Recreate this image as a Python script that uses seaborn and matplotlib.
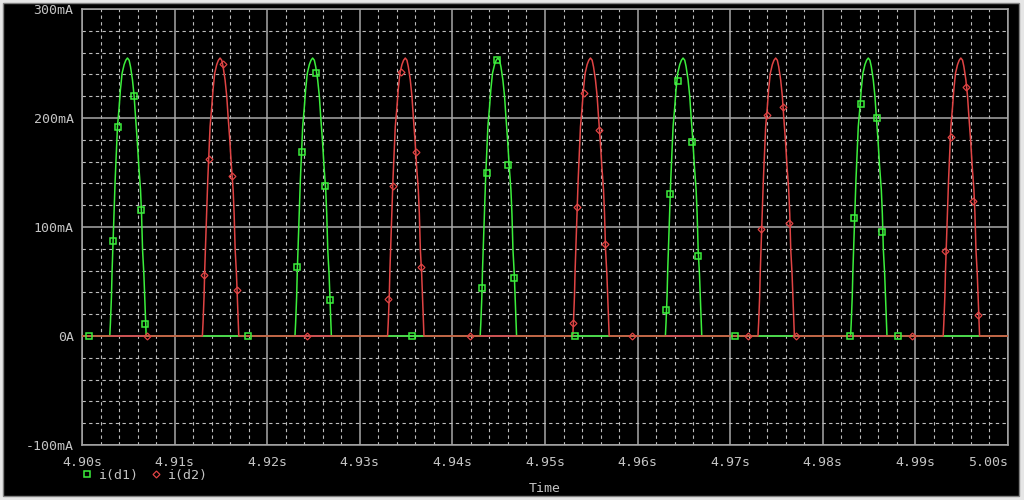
import matplotlib
matplotlib.use('Agg')
import numpy as np
import pandas as pd
import seaborn as sns
import matplotlib.pyplot as plt
from matplotlib.lines import Line2D
from matplotlib.patches import Rectangle
from matplotlib.ticker import MultipleLocator

# one conduction pulse: time from pulse start (ms), current (mA)
pulse_ms = [0.0, 0.07, 0.18, 0.25, 0.36, 0.47, 0.58, 0.72, 0.83, 1.01, 1.15, 1.33, 1.55, 1.73, 1.91,
            2.09, 2.24, 2.45, 2.63, 2.78, 2.96, 3.14, 3.32, 3.43, 3.54, 3.68, 3.79, 3.90, 3.93]
pulse_ma = [0, 12, 36, 60, 88, 119, 143, 171, 192, 210, 226, 241, 249, 253, 255,
            253, 247, 235, 220, 201, 180, 155, 134, 112, 79, 57, 33, 9, 0]

# pulse start times, ms after 4.90 s
d1_starts = [3.0, 23.0, 43.0, 63.0, 83.0]
d2_starts = [13.0, 33.0, 53.0, 73.0, 93.0]

# marker points (ms after 4.90 s, mA)
d1_mark_ms = [0.76, 3.38, 3.92, 5.65, 6.40, 6.84, 17.96, 23.25, 23.79, 25.30, 26.27, 26.81, 35.64,
              43.16, 43.70, 44.78, 46.04, 46.69, 53.27, 63.07, 63.50, 64.33, 65.91, 66.55, 70.52,
              82.97, 83.37, 84.13, 85.82, 86.43, 88.15]
d1_mark_ma = [0, 87, 192, 220, 116, 11, 0, 63, 169, 241, 138, 33, 0,
              44, 150, 253, 157, 53, 0, 24, 130, 234, 178, 73, 0,
              0, 108, 213, 200, 95, 0]
d2_mark_ms = [7.02, 13.17, 13.71, 15.19, 16.17, 16.71, 24.33, 33.08, 33.62, 34.48, 36.04, 36.58,
              41.90, 53.06, 53.49, 54.24, 55.83, 56.45, 59.43, 71.95, 73.36, 74.01, 75.73, 76.38,
              77.07, 89.63, 93.23, 93.88, 95.50, 96.26, 96.79]
d2_mark_ma = [0, 56, 162, 250, 147, 42, 0, 34, 138, 242, 169, 63,
              0, 12, 118, 223, 189, 84, 0, 0, 98, 203, 210, 104,
              0, 0, 78, 183, 228, 124, 19]

x_ticks = [4.90, 4.91, 4.92, 4.93, 4.94, 4.95, 4.96, 4.97, 4.98, 4.99, 5.00]
x_labels = ['4.90s', '4.91s', '4.92s', '4.93s', '4.94s', '4.95s', '4.96s', '4.97s', '4.98s', '4.99s', '5.00s']
y_ticks = [-100, 0, 100, 200, 300]
y_labels = ['-100mA', '0A', '100mA', '200mA', '300mA']

GREEN = '#3cee3c'
RED = '#e04444'
TXT = '#c4c4c4'
GRID = '#a8a8a8'


def trace(starts):
    t, i = [0.0], [0.0]
    for s in starts:
        t += [s + o for o in pulse_ms]
        i += pulse_ma
    t.append(100.0)
    i.append(0.0)
    return pd.DataFrame({'t': 4.90 + np.array(t) / 1000.0, 'i': i})


d1 = trace(d1_starts)
d2 = trace(d2_starts)
m1 = pd.DataFrame({'t': 4.90 + np.array(d1_mark_ms) / 1000.0, 'i': d1_mark_ma})
m2 = pd.DataFrame({'t': 4.90 + np.array(d2_mark_ms) / 1000.0, 'i': d2_mark_ma})

sns.set_style('dark', {'axes.facecolor': 'black', 'figure.facecolor': 'black'})
plt.rcParams['font.family'] = ['DejaVu Sans Mono']

fig = plt.figure(figsize=(10.24, 5.0), dpi=100)
fig.patch.set_facecolor('#e6e6e6')
fig.patches.append(Rectangle((3 / 1024, 4 / 500), 1016 / 1024, 493 / 500, transform=fig.transFigure,
                             facecolor='black', edgecolor='#808080', linewidth=1, zorder=-10))
ax = fig.add_axes([82 / 1024, 1 - 445 / 500, 926 / 1024, 436 / 500])
ax.set_zorder(1)
ax.set_facecolor('black')

sns.lineplot(data=d1, x='t', y='i', color=GREEN, lw=1.1, sort=False, estimator=None, ax=ax, zorder=3)
sns.lineplot(data=d2, x='t', y='i', color=RED, lw=1.1, sort=False, estimator=None, ax=ax, zorder=4)
ax.plot(m1['t'], m1['i'], ls='none', marker='s', ms=4.5, mfc='none', mec=GREEN, mew=1.1, zorder=5)
ax.plot(m2['t'], m2['i'], ls='none', marker='D', ms=3.5, mfc='none', mec=RED, mew=0.9, zorder=5)

ax.set_xlim(4.90, 5.00)
ax.set_ylim(-100, 300)
ax.set_xticks(x_ticks)
ax.set_xticklabels(x_labels)
ax.get_xticklabels()[-1].set_ha('right')
ax.set_yticks(y_ticks)
ax.set_yticklabels(y_labels)
ax.xaxis.set_minor_locator(MultipleLocator(0.002))
ax.yaxis.set_minor_locator(MultipleLocator(20))
ax.grid(True, which='major', color=GRID, lw=1.1, ls='-', zorder=1)
ax.grid(True, which='minor', color='#bdbdbd', lw=0.8, ls=(0, (3, 3)), zorder=1)
ax.set_axisbelow(True)
ax.tick_params(which='major', direction='out', color=GRID, labelcolor=TXT, labelsize=9.5, width=1)
ax.tick_params(axis='x', which='major', length=4, pad=4)
ax.tick_params(axis='y', which='major', length=4, pad=2)
ax.tick_params(which='minor', length=0)
ax.set_xlabel('')
ax.set_ylabel('')
for sp in ax.spines.values():
    sp.set_visible(True)
    sp.set_color(GRID)
    sp.set_linewidth(1.1)

handles = [Line2D([], [], ls='none', marker='s', ms=4.5, mfc='none', mec=GREEN, mew=1.1),
           Line2D([], [], ls='none', marker='D', ms=3.5, mfc='none', mec=RED, mew=0.9)]
fig.legend(handles, ['i(d1)', 'i(d2)'], loc='center left', bbox_to_anchor=(82 / 1024, 1 - 475 / 500),
           ncol=2, frameon=False, handlelength=0.8, handletextpad=0.5, columnspacing=0.9,
           borderpad=0, borderaxespad=0, labelcolor=TXT, fontsize=9.5)
fig.text(545 / 1024, 1 - 488 / 500, 'Time', ha='center', va='center', color=TXT, fontsize=9.5)

fig.savefig('out.png', dpi=100, facecolor=fig.get_facecolor())
